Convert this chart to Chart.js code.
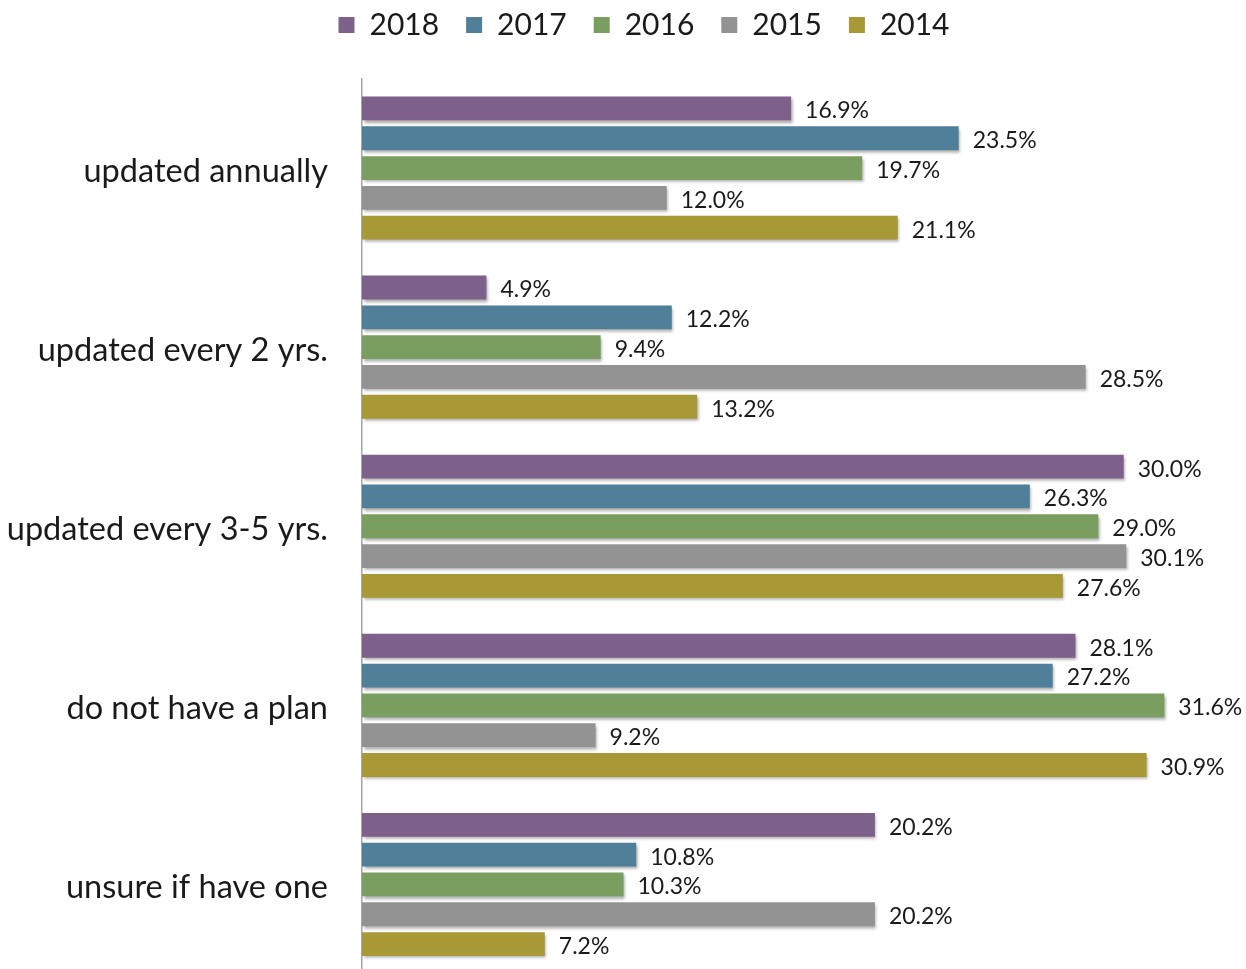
<!DOCTYPE html>
<html lang="en">

<head>
    <meta charset="UTF-8">
    <title>Plan update frequency</title>
    <script src="https://cdn.jsdelivr.net/npm/chart.js"></script>
    <style>
        body {
            margin: 0;
            padding: 0;
            overflow: hidden;
            background: #fff;
        }

        canvas {
            display: block;
        }
    </style>
</head>

<body>
    <canvas id="myChart" width="1246" height="974"></canvas>

    <script>
        const categories = ['updated annually', 'updated every 2 yrs.', 'updated every 3-5 yrs.', 'do not have a plan', 'unsure if have one'];
        const years = ['2018', '2017', '2016', '2015', '2014'];
        const colors = ['#7d618b', '#4f7f99', '#7a9e5f', '#939393', '#a99836'];

        const values2018 = [16.9, 4.9, 30.0, 28.1, 20.2];
        const values2017 = [23.5, 12.2, 26.3, 27.2, 10.8];
        const values2016 = [19.7, 9.4, 29.0, 31.6, 10.3];
        const values2015 = [12.0, 28.5, 30.1, 9.2, 20.2];
        const values2014 = [21.1, 13.2, 27.6, 30.9, 7.2];

        const allValues = [values2018, values2017, values2016, values2015, values2014];

        const fontFamily = 'Lato, "Open Sans", sans-serif';
        const axisX = 362;

        // soft drop shadow under each bar
        const barShadow = {
            id: 'barShadow',
            beforeDatasetDraw(chart) {
                const ctx = chart.ctx;
                ctx.save();
                ctx.shadowColor = 'rgba(0, 0, 0, 0.35)';
                ctx.shadowBlur = 3;
                ctx.shadowOffsetX = 1.5;
                ctx.shadowOffsetY = 2.5;
            },
            afterDatasetDraw(chart) {
                chart.ctx.restore();
            }
        };

        // percentage text at the end of every bar
        const barValues = {
            id: 'barValues',
            afterDatasetsDraw(chart) {
                const ctx = chart.ctx;
                ctx.save();
                ctx.font = '23px ' + fontFamily;
                ctx.fillStyle = '#1a1a1a';
                ctx.textAlign = 'left';
                ctx.textBaseline = 'middle';
                chart.data.datasets.forEach((ds, i) => {
                    chart.getDatasetMeta(i).data.forEach((bar, j) => {
                        ctx.fillText(ds.data[j].toFixed(1) + '%', bar.x + 14, bar.y + 2.5);
                    });
                });
                ctx.restore();
            }
        };

        // taller legend block; the legend row sits near the top and a bit right of centre
        const legendGap = {
            id: 'legendGap',
            beforeInit(chart) {
                const fit = chart.legend.fit;
                chart.legend.fit = function () {
                    fit.call(this);
                    this.height = 78.5;
                };
            },
            afterLayout(chart) {
                const lg = chart.legend;
                lg.top -= 17;
                lg.left += 25;
                lg.right += 25;
            }
        };

        const ctx = document.getElementById('myChart').getContext('2d');

        const chart = new Chart(ctx, {
            type: 'bar',
            data: {
                labels: categories,
                datasets: years.map((year, i) => ({
                    label: year,
                    data: allValues[i],
                    backgroundColor: colors[i],
                    borderWidth: 0,
                    barPercentage: 0.8,
                    categoryPercentage: 0.832
                }))
            },
            options: {
                indexAxis: 'y',
                responsive: false,
                animation: false,
                layout: {
                    padding: { top: 0, right: 8, left: 0, bottom: 0 }
                },
                scales: {
                    x: {
                        display: false,
                        min: 0,
                        max: 34.5
                    },
                    y: {
                        grid: {
                            display: false,
                            drawTicks: false
                        },
                        border: {
                            display: true,
                            color: '#a6a6a6',
                            width: 1.5
                        },
                        ticks: {
                            padding: 34,
                            labelOffset: 3,
                            color: '#1a1a1a',
                            font: {
                                family: fontFamily,
                                size: 32.5
                            }
                        },
                        afterFit(scale) {
                            scale.width = axisX;
                            scale.paddingTop = 0;
                            scale.paddingBottom = 0;
                        }
                    }
                },
                plugins: {
                    legend: {
                        position: 'top',
                        labels: {
                            boxWidth: 16,
                            boxHeight: 16,
                            padding: 27,
                            color: '#1a1a1a',
                            font: {
                                family: fontFamily,
                                size: 30
                            }
                        }
                    },
                    tooltip: { enabled: false }
                }
            },
            plugins: [legendGap, barShadow, barValues]
        });
    </script>

</body>

</html>
